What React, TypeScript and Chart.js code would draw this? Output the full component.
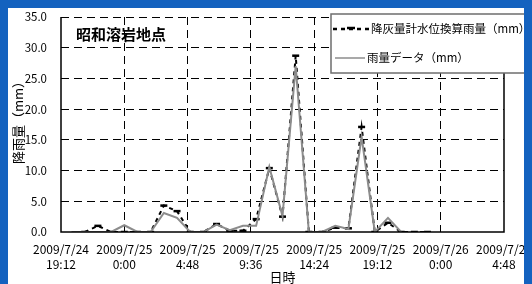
import React, { useEffect, useRef } from "react";
import { Chart, registerables } from "chart.js";

Chart.register(...registerables);

// Hours relative to 2009/7/25 0:00
const hours = [-4, -3, -2, -1, 0, 1, 2, 3, 4, 5, 6, 7, 8, 9, 10, 11, 12, 13, 14, 15, 16, 17, 18, 19, 20, 21, 22, 23];
const ashGaugeRain = [null, 0, 1.0, 0, 0, 0, 0, 4.3, 3.4, 0, 0, 1.3, 0.2, 0.2, 2.1, 10.4, 2.5, 28.7, 0, 0, 0.7, 0.6, 17.1, 0, 1.5, 0, 0, 0];
const rainData = [0, 0, 0, 0, 1.1, 0, 0, 3.1, 2.3, 0, 0, 1.2, 0.3, 1.0, 1.0, 10.6, 2.6, 27.0, 0, 0, 1.0, 0.5, 15.5, 0, 2.3, 0, null, null];

const xTickValues = [-4.8, 0, 4.8, 9.6, 14.4, 19.2, 24, 28.8];
const xTickLabels = [
  ["2009/7/24", "19:12"],
  ["2009/7/25", "0:00"],
  ["2009/7/25", "4:48"],
  ["2009/7/25", "9:36"],
  ["2009/7/25", "14:24"],
  ["2009/7/25", "19:12"],
  ["2009/7/26", "0:00"],
  ["2009/7/26", "4:48"],
];
const seriesNames = ["降灰量計水位換算雨量（mm）", "雨量データ（mm）"];
const chartTitle = "昭和溶岩地点";
const xAxisTitle = "日時";
const yAxisTitle = "降雨量（mm）";

const FONT = "'Noto Sans CJK JP', 'Noto Sans', sans-serif";

const decorPlugin = {
  id: "decor",
  afterDatasetsDraw(chart: any) {
    const { ctx, chartArea } = chart;
    const { left, right, top, bottom } = chartArea;
    ctx.save();
    ctx.setLineDash([]);
    ctx.strokeStyle = "#000";
    ctx.lineWidth = 1.5;
    ctx.beginPath();
    ctx.moveTo(left, top);
    ctx.lineTo(left, bottom);
    ctx.lineTo(right, bottom);
    ctx.lineTo(right, top);
    ctx.stroke();
    ctx.restore();
  },
  afterDraw(chart: any) {
    const { ctx, chartArea } = chart;
    const { left, right, top, bottom } = chartArea;
    ctx.save();
    // Title
    ctx.fillStyle = "#000";
    ctx.font = `bold 15px ${FONT}`;
    ctx.textAlign = "left";
    ctx.textBaseline = "middle";
    ctx.fillText(chartTitle, 68, 26);
    // X axis title
    ctx.font = `13px ${FONT}`;
    ctx.textAlign = "center";
    ctx.fillText(xAxisTitle, (left + right) / 2, 269);
    // Y axis title
    ctx.save();
    ctx.translate(10, (top + bottom) / 2 - 5);
    ctx.rotate(-Math.PI / 2);
    ctx.font = `13px ${FONT}`;
    ctx.fillText(yAxisTitle, 0, 0);
    ctx.restore();
    // Legend
    const lx = 323, ly = 6, lw = 197, lh = 59;
    ctx.fillStyle = "#fff";
    ctx.fillRect(lx, ly, lw, lh);
    ctx.strokeStyle = "#6e6e6e";
    ctx.lineWidth = 1.5;
    ctx.strokeRect(lx, ly, lw, lh);
    // row 1
    const r1 = 21, r2 = 50;
    ctx.strokeStyle = "#000";
    ctx.lineWidth = 2.5;
    ctx.setLineDash([4, 4]);
    ctx.beginPath();
    ctx.moveTo(325, r1);
    ctx.lineTo(362, r1);
    ctx.stroke();
    ctx.setLineDash([]);
    ctx.beginPath();
    ctx.moveTo(339, r1 - 1);
    ctx.lineTo(347, r1 - 1);
    ctx.stroke();
    // row 2
    ctx.strokeStyle = "#8c8c8c";
    ctx.lineWidth = 1.5;
    ctx.beginPath();
    ctx.moveTo(327, r2);
    ctx.lineTo(357, r2);
    ctx.stroke();
    ctx.fillStyle = "#000";
    ctx.font = `11.5px ${FONT}`;
    ctx.textAlign = "left";
    ctx.textBaseline = "middle";
    ctx.fillText(seriesNames[0], 363, r1);
    ctx.fillText(seriesNames[1], 359, r2);
    ctx.restore();
  },
};

export default function App() {
  const canvasRef = useRef<HTMLCanvasElement | null>(null);

  useEffect(() => {
    document.body.style.background = "#1462bf";
    const canvas = canvasRef.current;
    if (!canvas) return;
    const chart = new Chart(canvas, {
      type: "line",
      data: {
        datasets: [
          {
            label: seriesNames[1],
            data: hours.map((h, i) => ({ x: h, y: rainData[i] })),
            borderColor: "#8c8c8c",
            borderWidth: 2,
            pointRadius: 0,
            tension: 0,
            spanGaps: false,
            order: 0,
          },
          {
            label: seriesNames[0],
            data: hours.map((h, i) => ({ x: h, y: ashGaugeRain[i] })),
            borderColor: "#000",
            borderWidth: 2,
            borderDash: [4, 4],
            pointStyle: "line",
            pointRadius: 3.5,
            pointBorderWidth: 2.5,
            pointBorderColor: "#000",
            pointBackgroundColor: "#000",
            tension: 0,
            spanGaps: false,
            order: 1,
          },
        ],
      },
      plugins: [decorPlugin],
      options: {
        responsive: false,
        animation: false,
        events: [],
        layout: { padding: { top: 9, right: 28, left: 0, bottom: 0 } },
        plugins: {
          legend: { display: false },
          tooltip: { enabled: false },
          title: { display: false },
        },
        scales: {
          x: {
            type: "linear",
            min: -4.8,
            max: 28.8,
            afterBuildTicks: (scale: any) => {
              scale.ticks = xTickValues.map((v) => ({ value: v }));
            },
            afterFit: (scale: any) => {
              scale.height = 52;
              scale.paddingLeft = 0;
              scale.paddingRight = 0;
            },
            ticks: {
              autoSkip: false,
              maxRotation: 0,
              padding: 10,
              color: "#000",
              font: { family: FONT, size: 12, lineHeight: 1.25 },
              callback: (v: any) => {
                const idx = xTickValues.findIndex((t) => Math.abs(t - v) < 1e-6);
                return idx >= 0 ? xTickLabels[idx] : "";
              },
            },
            grid: {
              drawTicks: false,
              color: (c: any) => {
                const v = c.tick ? c.tick.value : 0;
                return Math.abs(v - -4.8) < 1e-6 || Math.abs(v - 28.8) < 1e-6 ? "rgba(0,0,0,0)" : "#000";
              },
              lineWidth: 1,
            },
            border: { display: false, dash: [8, 5] },
          },
          y: {
            min: 0,
            max: 35,
            afterFit: (scale: any) => {
              scale.width = 53;
              scale.paddingTop = 0;
              scale.paddingBottom = 0;
            },
            ticks: {
              stepSize: 5,
              padding: 14,
              color: "#000",
              font: { family: FONT, size: 11.5 },
              callback: (v: any) => Number(v).toFixed(1),
            },
            grid: {
              drawTicks: false,
              color: (c: any) => (c.tick && c.tick.value === 0 ? "rgba(0,0,0,0)" : "#000"),
              lineWidth: 1,
            },
            border: { display: false, dash: [8, 5] },
          },
        },
      },
    } as any);
    return () => chart.destroy();
  }, []);

  return (
    <div style={{ width: 524, height: 276, background: "#fff", boxShadow: "-1px -1px 0 #0b2a5c" }}>
      <canvas ref={canvasRef} width={524} height={276} style={{ display: "block" }} />
    </div>
  );
}
